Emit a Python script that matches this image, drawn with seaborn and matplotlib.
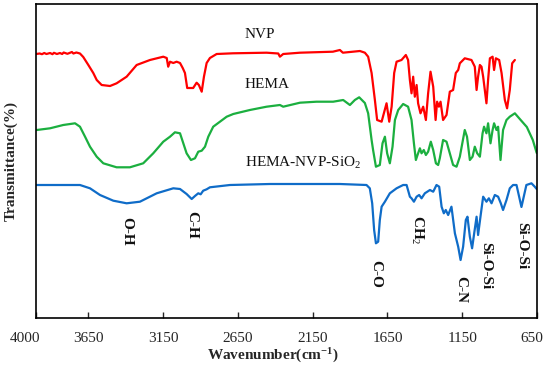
import numpy as np
import pandas as pd
import matplotlib
matplotlib.use("Agg")
import matplotlib.pyplot as plt
import matplotlib.transforms as mtransforms
import seaborn as sns

# ---------------- data ----------------
nvp_wn = [4000, 3975, 3960, 3945, 3930, 3906, 3890, 3880, 3860, 3840, 3825, 3815, 3790, 3773, 3760, 3750, 3730,
          3706, 3684, 3650, 3617,
          3594, 3561, 3505, 3461, 3394, 3327, 3238, 3149, 3126, 3116, 3104, 3082, 3060, 3037, 3019,
          3004, 2989, 2949, 2926, 2911, 2892, 2877, 2859, 2837, 2792, 2683, 2458, 2380, 2369, 2347,
          2235, 2015, 1968, 1948, 1834, 1801, 1779, 1756, 1734, 1719, 1689, 1656, 1638, 1622, 1605,
          1589, 1556, 1527, 1512, 1500, 1489, 1478, 1467, 1455, 1445, 1429, 1411, 1393, 1378, 1362,
          1344, 1328, 1318, 1306, 1295, 1278, 1255, 1233, 1211, 1193, 1177, 1166, 1133, 1088, 1066,
          1054, 1044, 1032, 1021, 1010, 988, 977, 965, 947, 937, 925, 903, 887, 865, 850, 832, 816, 798]
nvp_t = [264, 264.5, 263.8, 265, 264, 265, 263.8, 265.2, 264, 265, 264, 265.5, 264.2, 265.2, 266, 264.5, 265.5,
         264.5, 261, 253, 245,
         238, 233, 232, 234.7, 241.3, 253, 258, 261.3, 260, 251.3, 256.3, 255, 256.3, 255, 250,
         245, 230, 230, 235.3, 233, 226.3, 241.3, 255, 260, 264, 264.7, 265.3, 264.5, 261.3, 264,
         265.3, 266.3, 268, 265.3, 267, 265.3, 261.3, 245, 218, 198, 196.3, 214.7, 196.3, 211.3, 245,
         256.3, 258, 263, 258, 238, 224.7, 241.3, 221.3, 233, 214.7, 204.7, 211.3, 198, 224.7, 246.3,
         231.3, 198, 216.3, 211.3, 216.3, 198, 203, 226.3, 228, 245, 248, 254.7, 259.7, 258, 251.3,
         228, 241.3, 253, 251.3, 241.3, 214.7, 238, 259.7, 261.3, 248, 259.7, 258, 245, 218, 209.7, 228, 254.7, 258]

hema_wn = [3995, 3906, 3818, 3739, 3706, 3672, 3639, 3594, 3550, 3461, 3372, 3283, 3216, 3149, 3104,
           3071, 3037, 3015, 2993, 2964, 2937, 2915, 2892, 2870, 2848, 2815, 2770, 2725, 2681, 2570,
           2458, 2369, 2347, 2235, 2124, 2013, 1946, 1901, 1868, 1839, 1801, 1779, 1756, 1746, 1727,
           1701, 1683, 1667, 1652, 1634, 1616, 1600, 1578, 1545, 1512, 1489, 1473, 1460, 1445, 1433,
           1422, 1407, 1393, 1378, 1360, 1344, 1326, 1311, 1300, 1278, 1255, 1233, 1211, 1188, 1166,
           1133, 1118, 1099, 1081, 1066, 1050, 1032, 1014, 1004, 988, 977, 961, 947, 937, 921, 910,
           894, 877, 854, 832, 798, 765, 718, 678, 652]
hema_t = [188, 189.7, 193, 194.7, 191.3, 181.3, 171.3, 161.3, 154.7, 150.7, 150.7, 154.7, 164.7, 176.3, 181.3,
          185.7, 184.7, 174.7, 164.7, 158, 159.7, 166.3, 167.3, 171.3, 181.3, 191.3, 196.3, 201.3, 204, 208,
          211.3, 213, 211.3, 215.3, 216.3, 216.3, 218, 213, 218, 220.7, 215, 204.7, 178, 168, 151.3,
          153, 174.7, 181.3, 164.7, 154.7, 171.3, 198, 208, 214, 211.3, 198, 174.7, 158, 164.7, 169.7,
          164.7, 168, 163, 166.3, 176.3, 168, 154.7, 153, 159.7, 178, 176.3, 164.7, 153, 151.3, 161.3,
          188, 181.3, 158, 161.3, 171.3, 164.7, 161.3, 184.7, 191.3, 184.7, 194.7, 174.7, 188, 194.7, 188, 191.3,
          158, 188, 198, 201.3, 204.7, 199, 191, 178, 165]

comp_wn = [3995, 3706, 3639, 3572, 3483, 3394, 3305, 3193, 3082, 3037, 2993, 2959, 2937, 2915, 2899,
           2882, 2859, 2837, 2703, 2436, 1968, 1790, 1768, 1752, 1739, 1727, 1712, 1701, 1689, 1667,
           1634, 1589, 1545, 1522, 1500, 1489, 1473, 1455, 1438, 1422, 1400, 1366, 1344, 1322, 1304,
           1288, 1273, 1260, 1244, 1222, 1199, 1177, 1161, 1144, 1126, 1115, 1099, 1084, 1070, 1054,
           1044, 1028, 1010, 988, 972, 954, 932, 910, 892, 877, 854, 832, 810, 787, 754, 721, 687, 665, 652]
comp_t = [133, 133, 129.7, 123, 117.3, 114.7, 116.3, 124.7, 129.7, 129, 124, 119, 122, 124.7, 123.7,
          127.3, 128.7, 130.7, 133, 134, 134, 133, 129.7, 114.7, 88, 74.7, 76.3, 98, 111.3, 116.3,
          124.7, 129.7, 133, 133, 121.3, 119.7, 116.3, 121.3, 123, 119.7, 124.7, 128, 126.3, 133, 131.3,
          111.3, 104.7, 108, 103, 111.3, 84.7, 71.3, 58, 71.3, 98, 101.3, 81.3, 69.7, 84.7, 101.3,
          83, 101.3, 121.3, 116.3, 119.7, 114.7, 123, 121.3, 114.7, 108, 118, 129.7, 133, 133, 111, 133, 134.7, 131.3, 129]

series_names = ["NVP", "HEMA", "HEMA-NVP-SiO$_2$"]
series_colors = ["#FF0000", "#1BAF3F", "#0F6CC8"]
name_pos = [(2603, 284), (2603, 233), (2603, 155)]

band_labels = ["O-H", "C-H", "C-O", "CH$_2$", "C-N", "Si-O-Si", "Si-O-Si"]
band_pos = [(3392, 87), (2959, 93), (1731, 44), (1453, 88), (1157, 29), (996, 52), (755, 72)]

xticks = [4000, 3650, 3150, 2650, 2150, 1650, 1150, 650]

# ---------------- plotting ----------------
sns.set_style("white")
plt.rcParams["font.family"] = ["Liberation Serif", "DejaVu Serif"]
plt.rcParams["mathtext.fontset"] = "custom"
plt.rcParams["mathtext.rm"] = "Liberation Serif"
plt.rcParams["mathtext.it"] = "Liberation Serif:italic"
plt.rcParams["mathtext.bf"] = "Liberation Serif:bold"

fig = plt.figure(figsize=(5.5, 3.69), dpi=100)
ax = fig.add_axes([36 / 550, 1 - 318 / 369, 501 / 550, 314 / 369])

frames = [
    pd.DataFrame({"wn": nvp_wn, "T": nvp_t}),
    pd.DataFrame({"wn": hema_wn, "T": hema_t}),
    pd.DataFrame({"wn": comp_wn, "T": comp_t}),
]
for df, c in zip(frames, series_colors):
    sns.lineplot(data=df, x="wn", y="T", color=c, lw=1.6, ax=ax,
                 estimator=None, sort=False, legend=False)

for name, (x, y) in zip(series_names, name_pos):
    ax.text(x, y, name, fontsize=11, ha="left", va="center", color="#111111")

for lab, (x, y) in zip(band_labels, band_pos):
    ax.text(x, y, lab, fontsize=11, fontweight="bold", rotation=270,
            ha="center", va="center", color="#111111")

ax.set_xlim(4000, 650)
ax.set_ylim(0, 314)
ax.set_xticks(xticks)
ax.set_xticklabels([str(v) for v in xticks], fontsize=11)
ax.set_yticks([])
ax.tick_params(axis="x", direction="in", length=4, width=1, pad=10, bottom=True, top=False)
for s in ax.spines.values():
    s.set_visible(True)
    s.set_color("black")
    s.set_linewidth(1.2)

# shift edge tick labels as in the reference
labs = ax.get_xticklabels()
labs[0].set_transform(labs[0].get_transform() + mtransforms.ScaledTranslation(-11 / 100, 0, fig.dpi_scale_trans))
labs[-1].set_transform(labs[-1].get_transform() + mtransforms.ScaledTranslation(-5 / 100, 0, fig.dpi_scale_trans))

ax.set_xlabel(r"Wavenumber(cm$^{\mathbf{-1}}$)", fontsize=11, fontweight="bold")
ax.xaxis.set_label_coords(0.473, -0.093)
ax.set_ylabel("Transmittance(%)", fontsize=11, fontweight="bold")
ax.yaxis.set_label_coords(-0.036, 0.5)

fig.savefig("out.png", dpi=100)
